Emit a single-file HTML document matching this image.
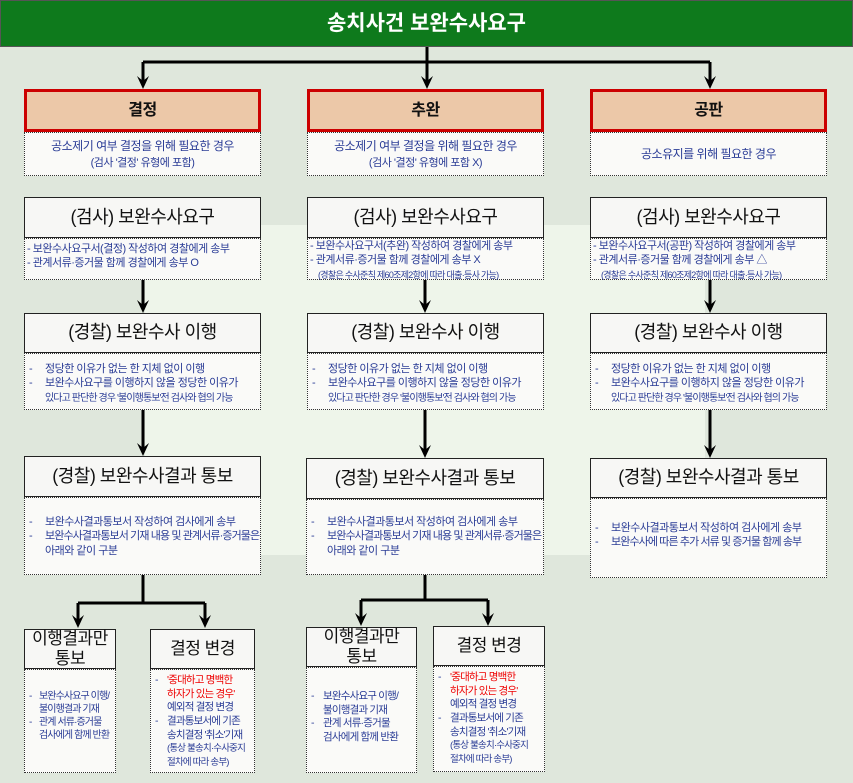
<!DOCTYPE html>
<html><head><meta charset="utf-8"><style>
*{margin:0;padding:0;box-sizing:border-box}
body{width:853px;height:783px;position:relative;background:#dfe7dc;font-family:"Liberation Sans","Noto Sans CJK KR",sans-serif;overflow:hidden}
.a{position:absolute}
.title{left:0;top:0;width:853px;height:47px;background:#0e7a1c;border:1px solid #555;color:#fff;font-size:21px;font-weight:bold;text-align:center;line-height:45px}
.hd{position:absolute;background:#f7f7f5;border:1px solid #222;text-align:center;font-size:18px;color:#111;display:flex;align-items:center;justify-content:center;line-height:1.2;letter-spacing:-0.5px}
.red{background:#ecc8a8;border:3px solid #c00;font-weight:bold;font-size:16px}
.dt{position:absolute;background:#fafaf8;border:1px dotted #333;color:#2a3c96;font-size:11px;line-height:1.3;white-space:nowrap;letter-spacing:-0.5px}
.it{position:relative;padding-left:20px}
.it:before{content:"-";position:absolute;left:4px;top:0}
.sm .it{padding-left:16px}
.sm .it:before{left:4px}
svg{position:absolute;left:0;top:0}
</style></head><body>
<div class="a" style="left:145px;top:225px;width:560px;height:330px;background:#eef5ea"></div>
<div class="a title">송치사건 보완수사요구</div>

<svg width="853" height="783">
<g stroke="#000" stroke-width="3" fill="none">
<path d="M427,47 V62 M143,62 H710"/>
<path d="M143,62 V82 M427,62 V82 M710,62 V82"/>
<path d="M143,280 V306 M425,280 V306 M710,280 V306"/>
<path d="M143,410 V448 M425,410 V451 M710,410 V451"/>
<path d="M143,575 V603 M78,603 H205 M425,575 V600 M361,600 H488"/>
<path d="M78,603 V620 M205,603 V620 M361,600 V619 M488,600 V619"/>
</g>
<g fill="#000">
<path d="M137,76 L143,89 L149,76 L143,81z"/><path d="M421,76 L427,89 L433,76 L427,81z"/><path d="M704,76 L710,89 L716,76 L710,81z"/>
<path d="M137,300 L143,313 L149,300 L143,305z"/><path d="M419,300 L425,313 L431,300 L425,305z"/><path d="M704,300 L710,313 L716,300 L710,305z"/>
<path d="M137,443 L143,456 L149,443 L143,448z"/><path d="M419,445 L425,458 L431,445 L425,450z"/><path d="M704,445 L710,458 L716,445 L710,450z"/>
<path d="M72,615 L78,628 L84,615 L78,620z"/><path d="M199,615 L205,628 L211,615 L205,620z"/>
<path d="M355,613 L361,626 L367,613 L361,618z"/><path d="M482,613 L488,626 L494,613 L488,618z"/>
</g></svg>

<!-- headers -->
<div class="hd red" style="left:24px;top:89px;width:237px;height:43px">결정</div>
<div class="hd red" style="left:307px;top:89px;width:237px;height:43px">추완</div>
<div class="hd red" style="left:590px;top:89px;width:237px;height:43px">공판</div>
<div class="dt" style="left:24px;top:132px;width:237px;height:44px;text-align:center;padding-top:6px;font-size:12px">공소제기 여부 결정을 위해 필요한 경우<br><span style="font-size:11px">(검사 '결정' 유형에 포함)</span></div>
<div class="dt" style="left:307px;top:132px;width:237px;height:44px;text-align:center;padding-top:6px;font-size:12px">공소제기 여부 결정을 위해 필요한 경우<br><span style="font-size:11px">(검사 '결정' 유형에 포함 X)</span></div>
<div class="dt" style="left:590px;top:132px;width:237px;height:44px;text-align:center;padding-top:14px;font-size:12px">공소유지를 위해 필요한 경우</div>

<!-- 검사 -->
<div class="hd" style="left:24px;top:197px;width:237px;height:41px">(검사) 보완수사요구</div>
<div class="hd" style="left:307px;top:197px;width:237px;height:41px">(검사) 보완수사요구</div>
<div class="hd" style="left:590px;top:197px;width:237px;height:41px">(검사) 보완수사요구</div>
<div class="dt" style="left:24px;top:238px;width:237px;height:42px;padding:3px 2px">- 보완수사요구서(결정) 작성하여 경찰에게 송부<br>- 관계서류·증거물 함께 경찰에게 송부 O</div>
<div class="dt" style="left:307px;top:238px;width:237px;height:42px;padding:0 2px">- 보완수사요구서(추완) 작성하여 경찰에게 송부<br>- 관계서류·증거물 함께 경찰에게 송부 X<br><span style="font-size:9px;padding-left:8px;letter-spacing:-0.7px">(경찰은 수사준칙 제60조제2항에 따라 대출·등사 가능)</span></div>
<div class="dt" style="left:590px;top:238px;width:237px;height:42px;padding:0 2px">- 보완수사요구서(공판) 작성하여 경찰에게 송부<br>- 관계서류·증거물 함께 경찰에게 송부 △<br><span style="font-size:9px;padding-left:8px;letter-spacing:-0.7px">(경찰은 수사준칙 제60조제2항에 따라 대출·등사 가능)</span></div>

<!-- 경찰 이행 -->
<div class="hd" style="left:24px;top:313px;width:237px;height:40px">(경찰) 보완수사 이행</div>
<div class="hd" style="left:307px;top:313px;width:237px;height:40px">(경찰) 보완수사 이행</div>
<div class="hd" style="left:590px;top:313px;width:237px;height:40px">(경찰) 보완수사 이행</div>
<div class="dt" style="left:24px;top:353px;width:237px;height:57px;padding-top:8px"><div class="it">정당한 이유가 없는 한 지체 없이 이행</div><div class="it">보완수사요구를 이행하지 않을 정당한 이유가<br><span style="font-size:10px;letter-spacing:-0.9px">있다고 판단한 경우 '불이행통보'전 검사와 협의 가능</span></div></div>
<div class="dt" style="left:307px;top:353px;width:237px;height:57px;padding-top:8px"><div class="it">정당한 이유가 없는 한 지체 없이 이행</div><div class="it">보완수사요구를 이행하지 않을 정당한 이유가<br><span style="font-size:10px;letter-spacing:-0.9px">있다고 판단한 경우 '불이행통보'전 검사와 협의 가능</span></div></div>
<div class="dt" style="left:590px;top:353px;width:237px;height:57px;padding-top:8px"><div class="it">정당한 이유가 없는 한 지체 없이 이행</div><div class="it">보완수사요구를 이행하지 않을 정당한 이유가<br><span style="font-size:10px;letter-spacing:-0.9px">있다고 판단한 경우 '불이행통보'전 검사와 협의 가능</span></div></div>

<!-- 결과 통보 -->
<div class="hd" style="left:24px;top:456px;width:237px;height:41px">(경찰) 보완수사결과 통보</div>
<div class="hd" style="left:306px;top:458px;width:238px;height:41px">(경찰) 보완수사결과 통보</div>
<div class="hd" style="left:590px;top:458px;width:237px;height:40px">(경찰) 보완수사결과 통보</div>
<div class="dt" style="left:24px;top:497px;width:237px;height:78px;padding-top:17px"><div class="it">보완수사결과통보서 작성하여 검사에게 송부</div><div class="it"><span style="letter-spacing:-0.9px">보완수사결과통보서 기재 내용 및 관계서류·증거물은</span><br>아래와 같이 구분</div></div>
<div class="dt" style="left:306px;top:499px;width:238px;height:76px;padding-top:15px"><div class="it">보완수사결과통보서 작성하여 검사에게 송부</div><div class="it"><span style="letter-spacing:-0.9px">보완수사결과통보서 기재 내용 및 관계서류·증거물은</span><br>아래와 같이 구분</div></div>
<div class="dt" style="left:590px;top:498px;width:237px;height:80px;padding-top:22px"><div class="it">보완수사결과통보서 작성하여 검사에게 송부</div><div class="it"><span style="letter-spacing:-0.9px">보완수사에 따른 추가 서류 및 증거물 함께 송부</span></div></div>

<!-- bottom -->
<div class="hd" style="left:24px;top:629px;width:92px;height:40px;font-size:17px">이행결과만<br>통보</div>
<div class="hd" style="left:150px;top:629px;width:105px;height:40px;font-size:17px">결정 변경</div>
<div class="hd" style="left:306px;top:627px;width:111px;height:40px;font-size:17px">이행결과만<br>통보</div>
<div class="hd" style="left:433px;top:626px;width:112px;height:40px;font-size:17px">결정 변경</div>
<div class="dt sm" style="left:24px;top:669px;width:92px;height:104px;padding-top:20px;font-size:10px;letter-spacing:-0.9px"><div class="it" style="padding-left:14px">보완수사요구 이행/<br>불이행결과 기재</div><div class="it" style="padding-left:14px">관계 서류·증거물<br>검사에게 함께 반환</div></div>
<div class="dt sm" style="left:150px;top:669px;width:105px;height:104px;padding-top:4px;font-size:10.5px;letter-spacing:-0.8px"><div class="it"><span style="color:#e00">'중대하고 명백한<br>하자가 있는 경우'</span><br>예외적 결정 변경</div><div class="it">결과통보서에 기존<br>송치결정 '취소'기재<br><span style="font-size:9.5px">(통상 불송치·수사중지<br>절차에 따라 송부)</span></div></div>
<div class="dt sm" style="left:306px;top:667px;width:111px;height:106px;padding-top:22px;font-size:10.5px;letter-spacing:-0.8px"><div class="it">보완수사요구 이행/<br>불이행결과 기재</div><div class="it">관계 서류·증거물<br>검사에게 함께 반환</div></div>
<div class="dt sm" style="left:433px;top:666px;width:112px;height:106px;padding-top:4px;font-size:10.5px;letter-spacing:-0.8px"><div class="it"><span style="color:#e00">'중대하고 명백한<br>하자가 있는 경우'</span><br>예외적 결정 변경</div><div class="it">결과통보서에 기존<br>송치결정 '취소'기재<br><span style="font-size:9.5px">(통상 불송치·수사중지<br>절차에 따라 송부)</span></div></div>
</body></html>
